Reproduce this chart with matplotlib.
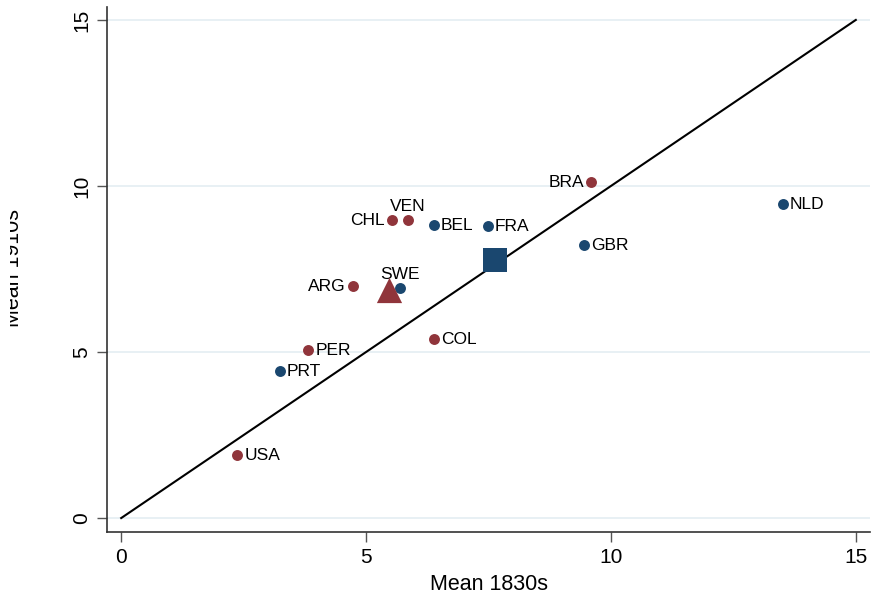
import numpy as np
import matplotlib.pyplot as plt
from matplotlib.transforms import Bbox

plt.rcParams['font.family'] = ['Liberation Sans', 'DejaVu Sans']

# country means, 1830s vs 1910s
blue_codes = ["PRT", "SWE", "BEL", "FRA", "GBR", "NLD"]
blue_x = [3.24, 5.69, 6.39, 7.49, 9.45, 13.51]
blue_y = [4.43, 6.93, 8.83, 8.80, 8.22, 9.46]

red_codes = ["USA", "PER", "ARG", "CHL", "VEN", "COL", "BRA"]
red_x = [2.37, 3.82, 4.73, 5.53, 5.86, 6.39, 9.59]
red_y = [1.90, 5.06, 6.99, 8.98, 8.98, 5.39, 10.12]

# group averages
blue_mean = (7.63, 7.77)
red_mean = (5.47, 6.87)

# where each label goes relative to its dot
label_pos = {
    "PRT": "right", "SWE": "top", "BEL": "right", "FRA": "right",
    "GBR": "right", "NLD": "right", "USA": "right", "PER": "right",
    "ARG": "left", "CHL": "left", "VEN": "top", "COL": "right",
    "BRA": "left",
}

navy = "#1a476f"
maroon = "#90353b"

fig = plt.figure(figsize=(8.72, 6.04), dpi=100)
ax = fig.add_axes([107 / 872, 72 / 604, 763 / 872, 525 / 604])

for v in [0, 5, 10, 15]:
    ax.axhline(v, color="#e4eef2", lw=1.2, zorder=0)

ax.plot([0, 15], [0, 15], color="black", lw=1.5, zorder=2)

ax.scatter(blue_x, blue_y, s=62, color=navy, zorder=3, linewidths=0)
ax.scatter(red_x, red_y, s=62, color=maroon, zorder=3, linewidths=0)
ax.scatter([blue_mean[0]], [blue_mean[1]], s=300, marker="s", color=navy,
           zorder=4, linewidths=0)
ax.scatter([red_mean[0]], [red_mean[1]], s=330, marker="^", color=maroon,
           zorder=4, linewidths=0)


def put_labels(codes, xs, ys):
    for c, x, y in zip(codes, xs, ys):
        p = label_pos[c]
        if p == "right":
            ax.annotate(c, (x, y), xytext=(5, -0.5), textcoords="offset points",
                        ha="left", va="center", fontsize=12.5)
        elif p == "left":
            ax.annotate(c, (x, y), xytext=(-5, -0.5), textcoords="offset points",
                        ha="right", va="center", fontsize=12.5)
        else:
            ax.annotate(c, (x, y), xytext=(0, 4), textcoords="offset points",
                        ha="center", va="bottom", fontsize=12.5)


put_labels(blue_codes, blue_x, blue_y)
put_labels(red_codes, red_x, red_y)

ax.set_xlim(-0.29, 15.29)
ax.set_ylim(-0.42, 15.39)
ax.set_xticks([0, 5, 10, 15])
ax.set_yticks([0, 5, 10, 15])
ax.set_yticklabels(["0", "5", "10", "15"], rotation=90, va="center")
ax.tick_params(axis="both", length=7.5, width=1, color="#555555",
               labelsize=15, pad=4)

for s in ["top", "right"]:
    ax.spines[s].set_visible(False)
for s in ["left", "bottom"]:
    ax.spines[s].set_color("#333333")
    ax.spines[s].set_linewidth(1.2)

ax.set_xlabel("Mean 1830s", fontsize=15.5, labelpad=5)

# y title sits at the very edge, its top cut off
yl = fig.text(24 / 872, (604 - 268) / 604, "Mean 1910s", rotation=90,
              fontsize=15.5, ha="right", va="center")
yl.set_clip_box(Bbox.from_extents(10, 0, 872, 604))
yl.set_clip_on(True)

fig.savefig("out.png", dpi=100)
